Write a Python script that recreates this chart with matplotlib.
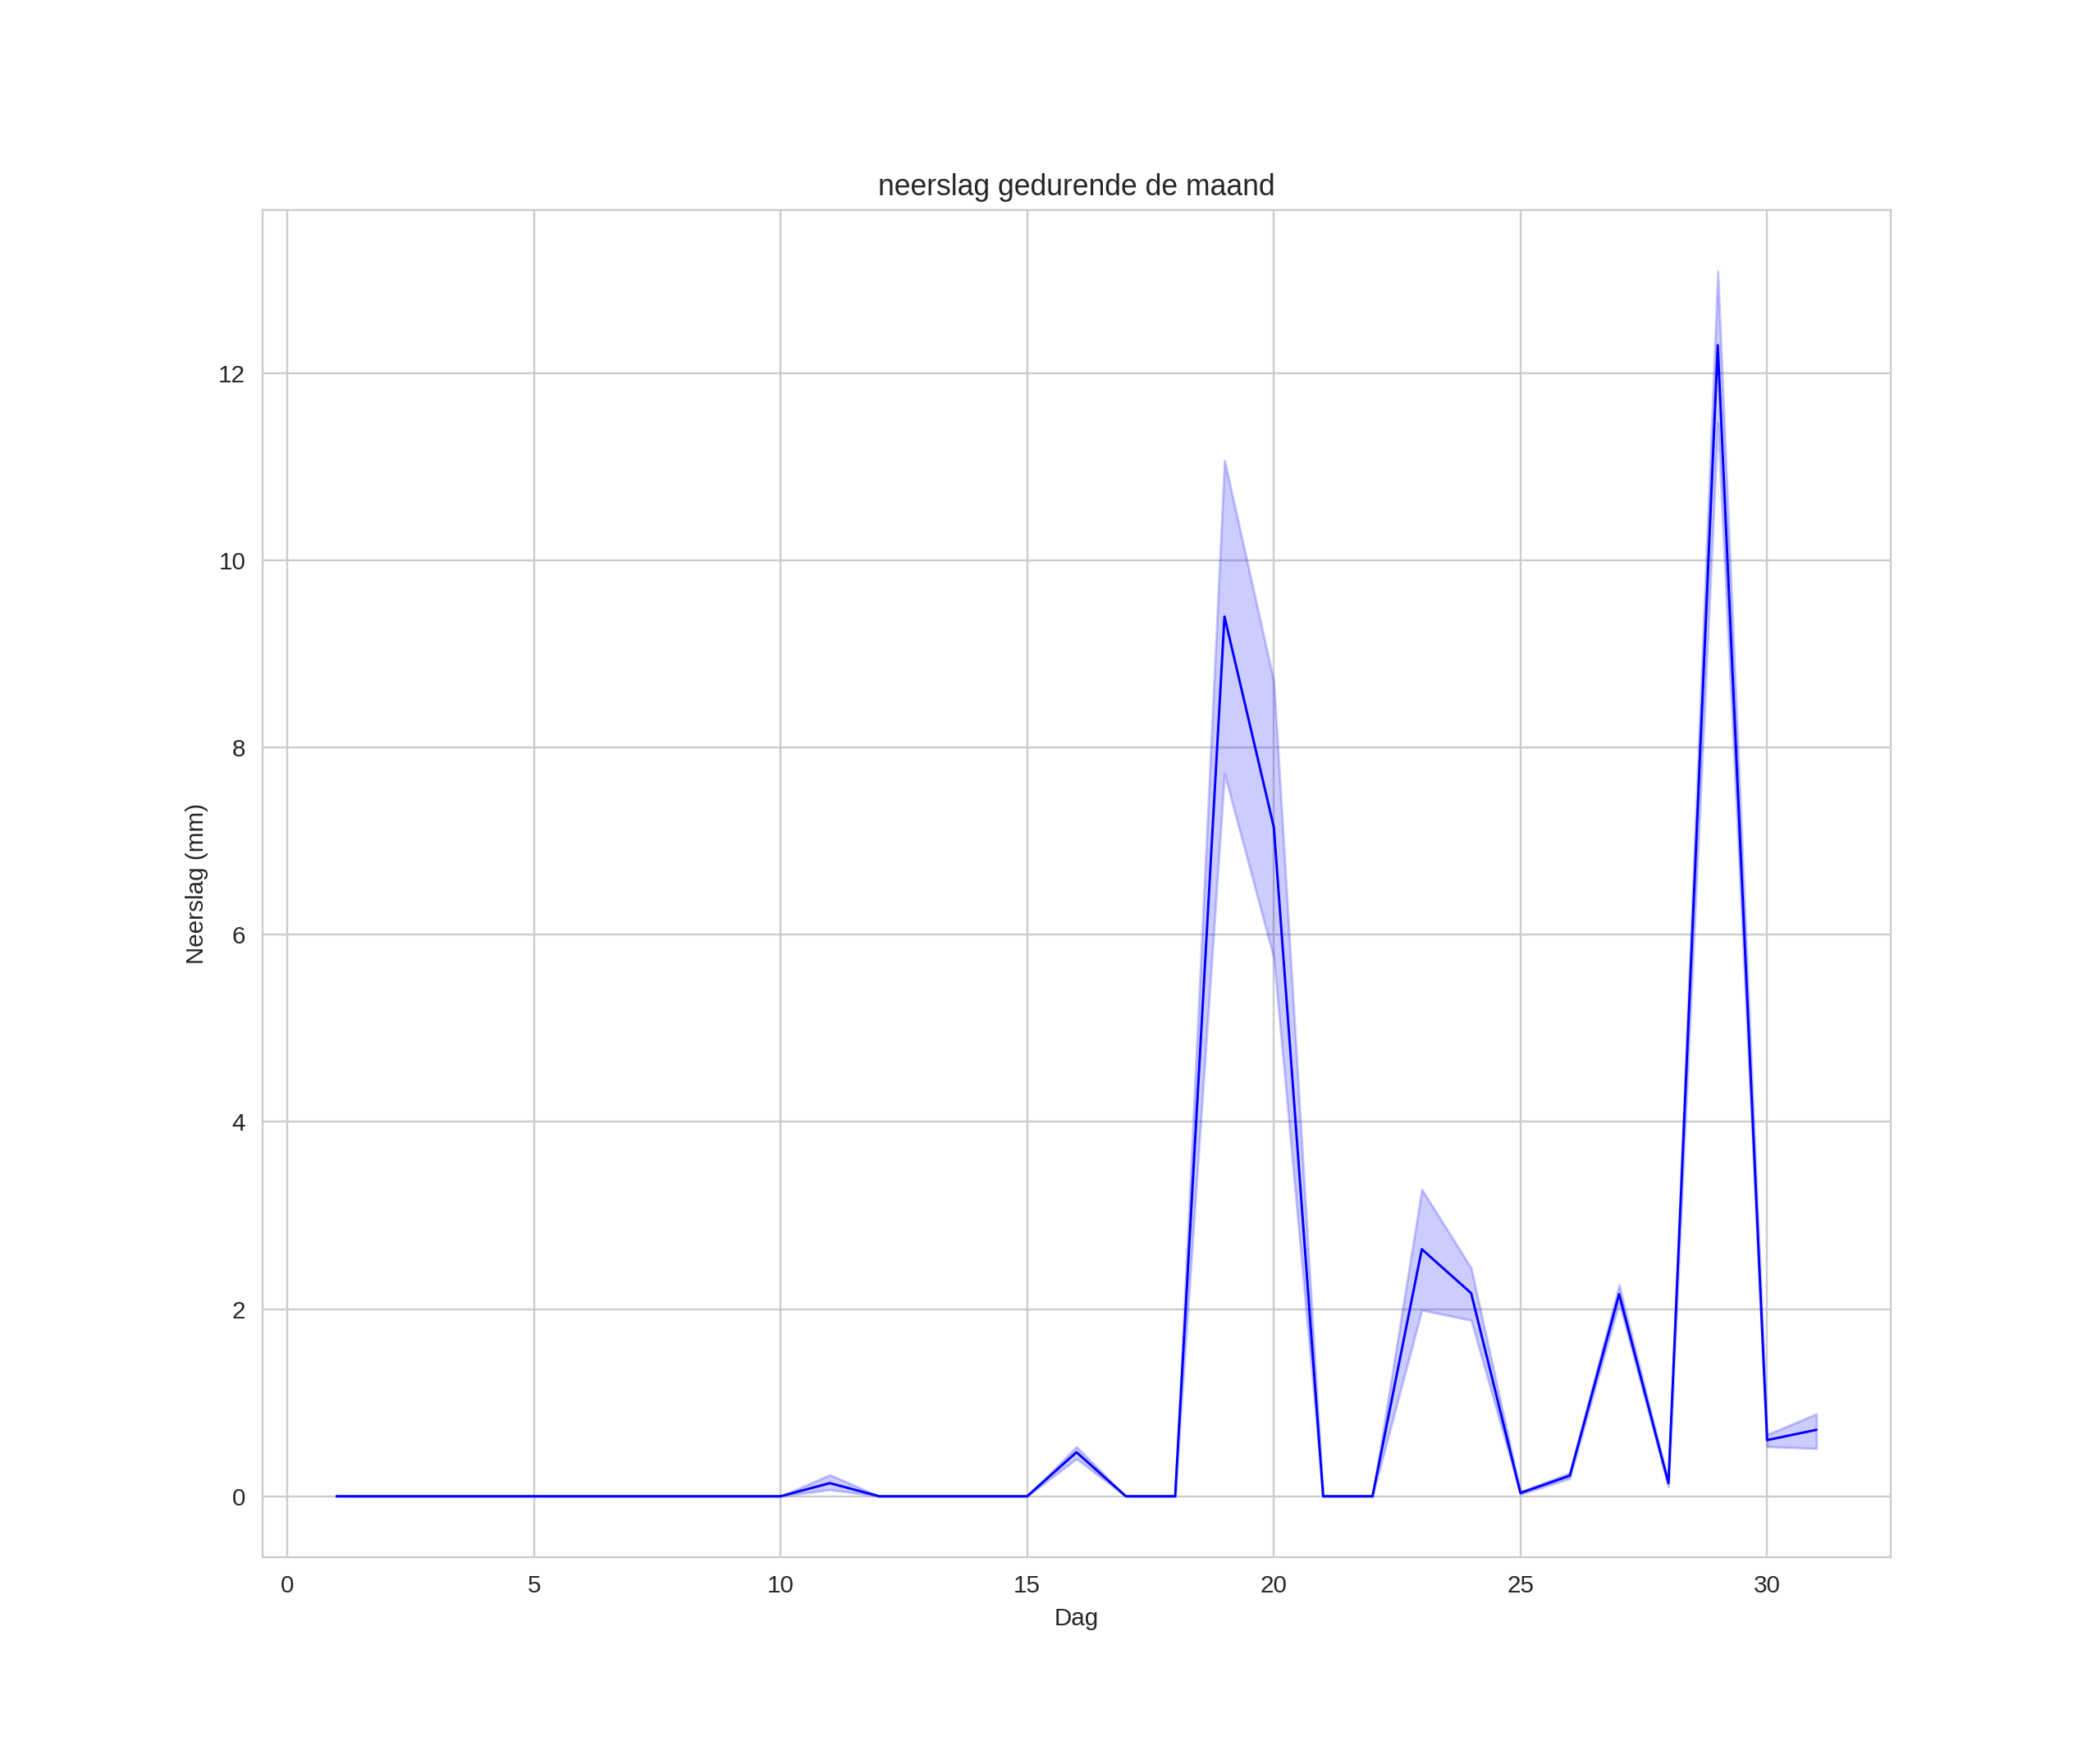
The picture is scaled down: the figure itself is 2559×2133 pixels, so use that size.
import matplotlib
matplotlib.use('Agg')
import matplotlib.pyplot as plt
import seaborn as sns

# Data: mean daily rainfall with confidence band
dag = list(range(1, 32))
neerslag = [0, 0, 0, 0, 0, 0, 0, 0, 0, 0,
            0.14, 0, 0, 0, 0, 0.47, 0, 0, 9.40, 7.15,
            0, 0, 2.64, 2.17, 0.035, 0.22, 2.16, 0.14, 12.30, 0.60,
            0.71]
ci_onder = [0, 0, 0, 0, 0, 0, 0, 0, 0, 0,
            0.07, 0, 0, 0, 0, 0.40, 0, 0, 7.72, 5.75,
            0, 0, 1.99, 1.88, 0.02, 0.19, 2.07, 0.10, 11.47, 0.53,
            0.51]
ci_boven = [0, 0, 0, 0, 0, 0, 0, 0, 0, 0,
            0.23, 0, 0, 0, 0, 0.53, 0, 0, 11.07, 8.71,
            0, 0, 3.28, 2.44, 0.05, 0.25, 2.26, 0.15, 13.09, 0.66,
            0.88]

sns.set_style('whitegrid')
plt.rcParams['font.family'] = ['Liberation Sans', 'DejaVu Sans']

# Plot
fig = plt.figure(figsize=(12, 10))
ax = plt.gca()
ax.fill_between(dag, ci_onder, ci_boven, color='blue', alpha=0.2)
ax.plot(dag, neerslag, color='blue', linewidth=1.0)
ax.set_title('neerslag gedurende de maand')
ax.set_xlabel('Dag')
ax.set_ylabel('Neerslag (mm)')
plt.savefig('out.png', dpi=213.3)
